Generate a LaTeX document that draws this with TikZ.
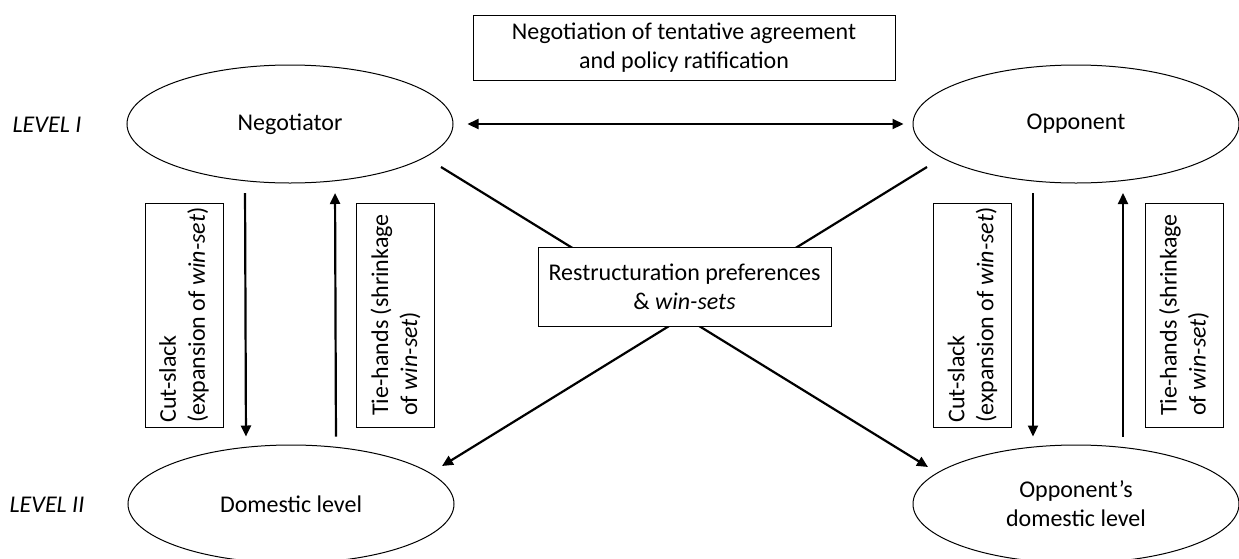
\documentclass[tikz,border=0pt]{standalone}
\usepackage{fontspec}
\setmainfont{Carlito}
\usetikzlibrary{shapes.geometric,arrows.meta}
\tikzset{
  actor/.style={draw, ellipse, line width=0.5pt, minimum width=163pt, minimum height=59pt, inner sep=0pt, align=center},
  box/.style={draw, line width=0.5pt, fill=white, align=center},
  vbox/.style={draw, line width=0.5pt, rotate=90, align=left, minimum width=112pt, minimum height=39pt, inner sep=2pt},
  flow/.style={-{Triangle[length=5.5pt,width=5pt]}, line width=1.1pt},
  link/.style={{Triangle[length=5.5pt,width=5pt]}-{Triangle[length=5.5pt,width=5pt]}, line width=1.1pt}
}

\begin{document}
\begin{tikzpicture}[x=0.5pt, y=-0.5pt, font=\fontsize{12}{14.5}\selectfont]
  \useasboundingbox (0,0) rectangle (1239,558);
  % levels
  \node (lvlI) at (47,125) {\textit{LEVEL I}};
  \node (lvlII) at (47,505) {\textit{LEVEL II}};
  % actors
  \node[actor] (neg) at (290,124) {Negotiator};
  \node[actor] (opp) at (1076,124) {Opponent};
  \node[actor] (dom) at (291,504) {Domestic level};
  \node[actor] (oppdom) at (1076,504) {Opponent’s\\domestic level};
  \node[box, minimum width=211pt, minimum height=32.5pt] (agree) at (684,47.5)
    {Negotiation of tentative agreement\\and policy ratification};
  \draw[link, shorten <=7pt, shorten >=4.5pt] (neg.east) -- (opp.west);
  % two-level moves
  \node[vbox] (cutL) at (184,315) {Cut-slack\\(expansion of \textit{win-set})};
  \node[vbox] (tieL) at (395.5,315) {Tie-hands (shrinkage\\of \textit{win-set})};
  \node[vbox] (cutR) at (972.5,315) {Cut-slack\\(expansion of \textit{win-set})};
  \node[vbox] (tieR) at (1184,315) {Tie-hands (shrinkage\\of \textit{win-set})};
  \draw[flow, shorten <=4.75pt, shorten >=4pt] ([xshift=-22.5pt]neg.south) -- ([xshift=-22.5pt]dom.north);
  \draw[flow, shorten <=4pt, shorten >=4.75pt] ([xshift=22.5pt]dom.north) -- ([xshift=22.5pt]neg.south);
  \draw[flow, shorten <=4.75pt, shorten >=4pt] ([xshift=-21.5pt]opp.south) -- ([xshift=-21.5pt]oppdom.north);
  \draw[flow, shorten <=4pt, shorten >=4.75pt] ([xshift=23.5pt]oppdom.north) -- ([xshift=23.5pt]opp.south);
  % cross links
  \coordinate (negX) at (441,167);
  \coordinate (oppX) at (927,167);
  \coordinate (domX) at (442,466);
  \coordinate (oppdomX) at (928,467);
  \draw[flow] (negX) -- (oppdomX);
  \draw[flow] (oppX) -- (domX);
  \node[box, minimum width=146.5pt, minimum height=39.5pt] (restr) at (684.5,286.5)
    {Restructuration preferences\\\& \textit{win-sets}};
\end{tikzpicture}
\end{document}
